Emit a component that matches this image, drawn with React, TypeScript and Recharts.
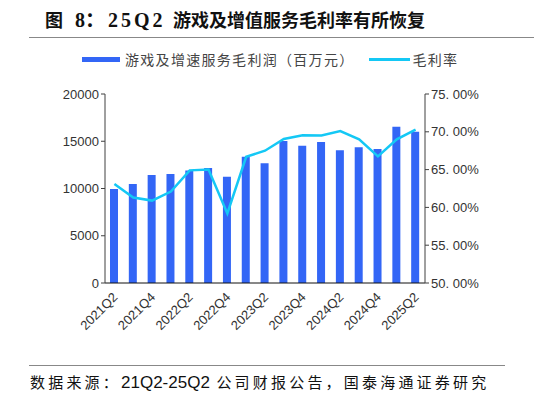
import { ComposedChart, Bar, Line, XAxis, YAxis } from 'recharts'

const quarters = [
  '2021Q2', '2021Q3', '2021Q4', '2022Q1', '2022Q2', '2022Q3', '2022Q4', '2023Q1', '2023Q2',
  '2023Q3', '2023Q4', '2024Q1', '2024Q2', '2024Q3', '2024Q4', '2025Q1', '2025Q2',
]
// 游戏及增值服务毛利润（百万元）
const grossProfit = [
  9950, 10480, 11430, 11530, 11900, 12170, 11250, 13370, 12660,
  15030, 14530, 14920, 14040, 14360, 14180, 16540, 16010,
]
// 毛利率 (%)
const grossMargin = [
  63.1, 61.3, 60.9, 62.1, 64.9, 65.0, 59.2, 66.7, 67.5,
  69.05, 69.55, 69.5, 70.1, 69.0, 66.75, 69.0, 70.3,
]
const leftTicks = [0, 5000, 10000, 15000, 20000]
const rightTicks = [50, 55, 60, 65, 70, 75]

const data = quarters.map((q, i) => ({ q, profit: grossProfit[i], margin: grossMargin[i] }))

const BAR = '#3366f6'
const LINE = '#14c8f5'
const AXIS = '#404040'
const TICK = '#333'
const cjk = '"Noto Sans CJK SC", sans-serif'
const latin = '"Liberation Sans", Arial, sans-serif'
const titleFont = '"Liberation Serif", "Noto Sans CJK SC", serif'

function XTick(props: any) {
  const { x, y, payload } = props
  return (
    <text x={x + 4} y={y + 7} transform={`rotate(-45 ${x + 4} ${y + 7})`} textAnchor="end"
      fill={TICK} fontSize={13} fontFamily={latin}>
      {payload.value}
    </text>
  )
}

// 右轴标签原图为 "75. 00%" 样式
const pct = (v: number) => v.toFixed(2).replace('.', '. ') + '%'

export default function App() {
  const ib = (w: number, extra = {}) => ({ display: 'inline-block', width: w, ...extra })
  return (
    <div style={{ position: 'absolute', left: 0, top: 0, width: 534, height: 396, background: '#fff', overflow: 'hidden' }}>
      <div style={{ position: 'absolute', left: 45, top: 8, fontSize: 18, lineHeight: '24px', fontWeight: 'bold', fontFamily: titleFont, color: '#111', whiteSpace: 'nowrap' }}>
        <span style={ib(30)}>图</span>
        <span style={ib(33, { fontSize: 20 })}>8：</span>
        <span style={ib(65, { fontSize: 20, letterSpacing: 3 })}>25Q2</span>
        <span>游戏及增值服务毛利率有所恢复</span>
      </div>
      <div style={{ position: 'absolute', left: 29, top: 37, width: 505, height: 1, background: '#888' }} />

      <div style={{ position: 'absolute', left: 82, top: 49, height: 20, display: 'flex', alignItems: 'center', fontFamily: cjk, fontSize: 14, letterSpacing: 1.3, color: '#444', whiteSpace: 'nowrap' }}>
        <span style={{ display: 'inline-block', width: 38, height: 5, background: BAR, marginRight: 5 }} />
        <span>游戏及增速服务毛利润（百万元）</span>
        <span style={{ display: 'inline-block', width: 41, height: 3, background: LINE, marginLeft: 14, marginRight: 3 }} />
        <span>毛利率</span>
      </div>

      <div style={{ position: 'absolute', left: 0, top: 0 }}>
        <ComposedChart width={534} height={340} data={data}
          margin={{ top: 94, right: 29, bottom: 7, left: 45 }}>
          <XAxis dataKey="q" interval={1} tick={<XTick />} height={50}
            axisLine={{ stroke: '#111' }} tickLine={false} />
          <YAxis yAxisId="l" domain={[0, 20000]} ticks={leftTicks} width={60}
            tick={{ fill: TICK, fontSize: 13, fontFamily: latin }}
            axisLine={{ stroke: AXIS }} tickLine={{ stroke: AXIS }} tickSize={4} />
          <YAxis yAxisId="r" orientation="right" domain={[50, 75]} ticks={rightTicks} width={80}
            tickFormatter={pct}
            tick={{ fill: TICK, fontSize: 13, fontFamily: latin }}
            axisLine={{ stroke: AXIS }} tickLine={{ stroke: AXIS }} tickSize={4} />
          <Bar yAxisId="l" dataKey="profit" fill={BAR} barSize={8} isAnimationActive={false} />
          <Line yAxisId="r" dataKey="margin" stroke={LINE} strokeWidth={2.5} dot={false}
            type="linear" isAnimationActive={false} />
        </ComposedChart>
      </div>

      <div style={{ position: 'absolute', left: 29, top: 365, width: 476, height: 1, background: '#888' }} />
      <div style={{ position: 'absolute', left: 30, top: 371, fontFamily: cjk, fontSize: 15, letterSpacing: 3.2, color: '#111', whiteSpace: 'nowrap' }}>
        数据来源：<span style={{ fontFamily: latin, fontSize: 17, letterSpacing: 0 }}>21Q2-25Q2</span> 公司财报公告，国泰海通证券研究
      </div>
    </div>
  )
}
